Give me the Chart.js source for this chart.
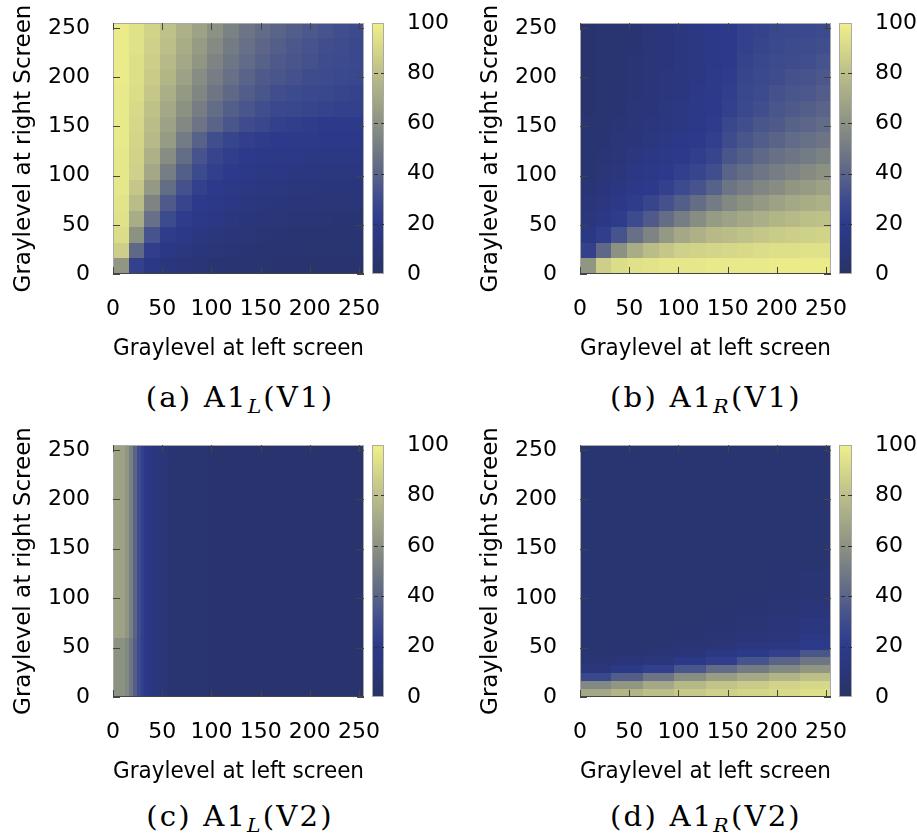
<!DOCTYPE html>
<html>
<head>
<meta charset="utf-8">
<script src="https://cdn.jsdelivr.net/npm/chart.js@4.4.1/dist/chart.umd.min.js"></script>
<style>
  body { margin: 0; background: #fff; width: 917px; height: 838px; position: relative; overflow: hidden; }
  canvas { position: absolute; }
  .cap { position: absolute; width: 300px; height: 40px; line-height: 40px; text-align: center;
         font-family: "DejaVu Serif", serif; font-size: 27px; letter-spacing: 2px; color: #000;
         white-space: nowrap; transform: scaleX(1.08); }
  .cap sub { font-size: 0.7em; font-style: italic; vertical-align: -0.3em; line-height: 0; }
</style>
</head>
<body>
<canvas id="heatA" width="390" height="370" style="left:0;top:0"></canvas>
<canvas id="heatB" width="390" height="370" style="left:467px;top:0"></canvas>
<canvas id="heatC" width="390" height="371" style="left:0;top:422px"></canvas>
<canvas id="heatD" width="390" height="371" style="left:467px;top:422px"></canvas>
<canvas id="barA" width="100" height="300" style="left:360px;top:0"></canvas>
<canvas id="barB" width="90" height="300" style="left:827px;top:0"></canvas>
<canvas id="barC" width="100" height="300" style="left:360px;top:422px"></canvas>
<canvas id="barD" width="90" height="300" style="left:827px;top:422px"></canvas>
<div class="cap" style="left:90px;top:378px">(a)&nbsp;A1<sub>L</sub>(V1)</div>
<div class="cap" style="left:556px;top:378px">(b)&nbsp;A1<sub>R</sub>(V1)</div>
<div class="cap" style="left:90px;top:797px">(c)&nbsp;A1<sub>L</sub>(V2)</div>
<div class="cap" style="left:556px;top:797px">(d)&nbsp;A1<sub>R</sub>(V2)</div>
<script>
// axis ticks and titles
const axisTicks = [0, 50, 100, 150, 200, 250];
const barTicks = [0, 20, 40, 60, 80, 100];
const xTitle = "Graylevel at left screen";
const yTitle = "Graylevel at right Screen";

// colour scale
const cmapStops = [0, 10, 20, 30, 40, 50, 60, 70, 80, 90, 100];
const cmapColors = ["#283366", "#2a3679", "#2c3a8c", "#3e4c8e", "#5a6488", "#737b84",
                    "#8c9282", "#a4a886", "#bcbf88", "#d6d889", "#f0f08a"];

// cell edges (gray levels)
const edges16 = [0, 16, 32, 48, 64, 80, 96, 112, 128, 144, 160, 176, 192, 208, 224, 240, 256];

// (a) A1_L(V1): rows from top (right gray 240-256) to bottom (0-16)
const a1LV1 = [
  [98,94,88,81,74,67,60,53,47,43,40,37,35,33,31,29],
  [98,94,87,80,72,64,57,50,45,41,38,35,33,31,30,28],
  [98,93,86,78,70,62,54,48,43,39,36,34,32,30,29,28],
  [98,93,85,76,67,58,51,45,40,36,34,32,30,29,28,27],
  [97,92,83,73,63,55,48,42,37,34,31,29,28,27,26,25],
  [97,91,81,70,60,51,44,38,34,31,28,27,26,25,24,24],
  [97,90,79,67,56,47,40,34,30,27,24,22,21,20,20,20],
  [97,89,78,64,50,39,31,26,23,21,20,19,19,18,18,18],
  [96,88,74,58,44,33,26,22,20,18,17,17,16,16,16,16],
  [96,87,70,51,38,29,23,20,18,16,15,14,14,13,13,13],
  [96,83,63,44,32,24,20,17,15,14,13,12,12,11,11,11],
  [95,79,54,36,26,20,17,15,13,12,11,10,10,9,9,9],
  [94,72,45,29,21,18,15,13,11,10,9,8,8,8,7,7],
  [92,60,33,21,17,14,12,10,9,8,7,7,6,6,6,6],
  [86,42,22,16,13,11,9,8,7,6,6,5,5,5,5,5],
  [62,24,16,12,10,8,7,6,5,5,4,4,4,4,4,4]
];

// (b) A1_R(V1)
const a1RV1 = [
  [4,5,6,7,9,11,13,16,18,20,24,25,27,28,28,29],
  [4,5,6,7,9,11,13,16,18,20,24,26,28,29,30,31],
  [4,5,6,8,9,11,13,16,18,20,25,27,29,30,31,33],
  [4,5,6,8,10,12,14,16,19,21,26,28,30,32,33,35],
  [4,5,7,8,10,12,14,17,19,22,27,29,32,34,35,37],
  [4,6,7,9,11,13,15,17,20,24,28,31,34,36,38,40],
  [5,6,8,10,12,14,16,18,21,27,31,34,36,39,41,43],
  [5,7,9,11,13,15,18,20,23,30,34,37,40,43,45,47],
  [6,8,10,13,15,17,20,22,26,34,38,42,45,48,50,53],
  [7,9,12,15,17,20,23,26,31,40,44,48,51,54,57,60],
  [8,11,14,18,20,24,29,33,39,47,51,55,58,62,64,67],
  [10,13,17,21,26,32,38,44,50,56,60,63,67,70,72,74],
  [12,16,21,29,36,44,51,58,64,67,70,73,76,78,80,81],
  [16,22,33,45,54,63,70,74,78,79,81,83,85,86,87,88],
  [24,42,60,72,79,83,87,88,89,90,91,92,93,93,94,94],
  [62,86,92,94,95,96,96,96,97,97,97,97,98,98,98,98]
];

// (c) A1_L(V2): narrow columns near left, two bands in right gray
const a1LV2x = [0, 6, 12, 16, 20, 24, 28, 32, 36, 40, 48, 56, 64, 96, 256];
const a1LV2y = [0, 60, 256];
const a1LV2 = [
  [68,67,62,52,40,30,23,18,15,12,9,7,6,4],
  [60,60,56,48,38,29,22,18,15,12,9,7,6,4]
];

// (d) A1_R(V2): finer rows near the bottom
const a1RV2x = [0, 32, 64, 96, 128, 160, 192, 224, 256];
const a1RV2y = [0, 8, 16, 24, 32, 40, 48, 56, 64, 80, 96, 128, 160, 256];
const a1RV2 = [
  [5,5,5,5,5,5,5,5],
  [5,5,5,5,5,5,6,6],
  [5,5,5,5,5,6,7,8],
  [5,5,5,5,6,7,8,10],
  [5,5,5,6,7,8,10,13],
  [5,5,6,7,8,10,12,17],
  [5,6,7,8,9,13,16,20],
  [6,7,8,10,15,19,24,34],
  [8,10,12,17,22,33,40,48],
  [12,17,23,34,43,50,56,62],
  [27,37,47,58,65,70,75,80],
  [56,62,70,77,82,85,88,90],
  [70,76,80,84,87,89,91,93]
];

Chart.defaults.font.family = "'DejaVu Sans', sans-serif";
Chart.defaults.font.size = 22;
Chart.defaults.color = "#000";

function hexToRgb(h) {
  return [1, 3, 5].map(i => parseInt(h.slice(i, i + 2), 16));
}

function colorFor(v) {
  v = Math.max(0, Math.min(100, v));
  for (let i = 1; i < cmapStops.length; i++) {
    if (v <= cmapStops[i]) {
      let f = (v - cmapStops[i - 1]) / (cmapStops[i] - cmapStops[i - 1]);
      let a = hexToRgb(cmapColors[i - 1]), b = hexToRgb(cmapColors[i]);
      return "rgb(" + a.map((c, k) => Math.round(c + (b[k] - c) * f)).join(",") + ")";
    }
  }
}

function toCells(grid, xs, ys) {
  let cells = [];
  let n = grid.length;
  grid.forEach((row, r) => {
    let y0 = ys[n - 1 - r], y1 = ys[n - r];
    row.forEach((v, i) => {
      cells.push({ x: (xs[i] + xs[i + 1]) / 2, y: (y0 + y1) / 2, x0: xs[i], x1: xs[i + 1], y0: y0, y1: y1, v: v });
    });
  });
  return cells;
}

// keep tick label padding from shrinking the plot area
function noScalePadding(s) {
  s.paddingTop = 0; s.paddingBottom = 0; s.paddingLeft = 0; s.paddingRight = 0;
}

const heatPlugin = {
  id: "heat",
  beforeDatasetsDraw(chart) {
    const { ctx, chartArea: a, scales: { x, y } } = chart;
    ctx.save();
    ctx.beginPath();
    ctx.rect(a.left, a.top, a.width, a.height);
    ctx.clip();
    chart.data.datasets[0].data.forEach(c => {
      let l = Math.round(x.getPixelForValue(c.x0)), r = Math.round(x.getPixelForValue(c.x1));
      let t = Math.round(y.getPixelForValue(c.y1)), b = Math.round(y.getPixelForValue(c.y0));
      ctx.fillStyle = colorFor(c.v);
      ctx.fillRect(l, t, r - l, b - t);
    });
    ctx.restore();
  },
  afterDatasetsDraw(chart) {
    const { ctx, chartArea: a, scales: { x, y } } = chart;
    ctx.save();
    ctx.lineWidth = 1;
    ctx.strokeStyle = "#aaa";
    ctx.strokeRect(a.left + 0.5, a.top + 0.5, a.width - 1, a.height - 1);
    ctx.strokeStyle = "#444";
    ctx.beginPath();
    ctx.moveTo(a.left, a.bottom - 0.5);
    ctx.lineTo(a.right, a.bottom - 0.5);
    axisTicks.forEach(v => {
      let px = Math.round(x.getPixelForValue(v)) + 0.5;
      ctx.moveTo(px, a.bottom); ctx.lineTo(px, a.bottom - 7);
      ctx.moveTo(px, a.top); ctx.lineTo(px, a.top + 7);
      let py = Math.round(y.getPixelForValue(v)) + 0.5;
      ctx.moveTo(a.left, py); ctx.lineTo(a.left + 7, py);
      ctx.moveTo(a.right, py); ctx.lineTo(a.right - 7, py);
    });
    ctx.stroke();
    ctx.restore();
  }
};

function heatChart(id, cells) {
  return new Chart(document.getElementById(id), {
    type: "scatter",
    data: { datasets: [{ data: cells, pointRadius: 0, pointHoverRadius: 0 }] },
    options: {
      responsive: false,
      animation: false,
      events: [],
      layout: { padding: { top: 23, right: 26, left: 0, bottom: 0 } },
      plugins: { legend: { display: false }, tooltip: { enabled: false } },
      scales: {
        x: {
          type: "linear", min: 0, max: 255,
          afterBuildTicks: s => { s.ticks = axisTicks.map(v => ({ value: v })); },
          afterFit: s => { s.height = 96; noScalePadding(s); },
          grid: { display: false, drawTicks: false },
          border: { display: false },
          ticks: { padding: 22, maxRotation: 0, autoSkip: false },
          title: { display: true, text: xTitle, font: { size: 23 }, padding: { top: 0, bottom: 7 } }
        },
        y: {
          type: "linear", min: 0, max: 255,
          afterBuildTicks: s => { s.ticks = axisTicks.map(v => ({ value: v })); },
          afterFit: s => { s.width = 113; noScalePadding(s); },
          grid: { display: false, drawTicks: false },
          border: { display: false },
          ticks: { padding: 23, autoSkip: false },
          title: { display: true, text: yTitle, font: { size: 23 }, padding: { top: 10, bottom: 0 } }
        }
      }
    },
    plugins: [heatPlugin]
  });
}

const barPlugin = {
  id: "colorbar",
  afterDatasetsDraw(chart) {
    const { ctx, chartArea: a, scales: { y } } = chart;
    ctx.save();
    ctx.lineWidth = 1;
    ctx.strokeStyle = "#aaa";
    ctx.strokeRect(a.left + 0.5, a.top + 0.5, a.width - 1, a.height - 1);
    ctx.strokeStyle = "#333";
    ctx.setLineDash([4, 3]);
    ctx.beginPath();
    barTicks.slice(1, -1).forEach(v => {
      let py = Math.round(y.getPixelForValue(v)) + 0.5;
      ctx.moveTo(a.left + 2, py);
      ctx.lineTo(a.right, py);
    });
    ctx.stroke();
    ctx.restore();
  }
};

function barGradient(chart) {
  const a = chart.chartArea;
  if (!a) return cmapColors[0];
  const y = chart.scales.y;
  let g = chart.ctx.createLinearGradient(0, y.getPixelForValue(0), 0, y.getPixelForValue(100));
  cmapStops.forEach((s, i) => g.addColorStop(s / 100, cmapColors[i]));
  return g;
}

function colorBar(id, canvasWidth, barWidth, bottomPad) {
  return new Chart(document.getElementById(id), {
    type: "bar",
    data: { labels: [""], datasets: [{ data: [100], backgroundColor: c => barGradient(c.chart),
      borderWidth: 0, barPercentage: 1, categoryPercentage: 1 }] },
    options: {
      responsive: false,
      animation: false,
      events: [],
      layout: { padding: { top: 23, left: 12, right: 0, bottom: bottomPad } },
      plugins: { legend: { display: false }, tooltip: { enabled: false } },
      scales: {
        x: { display: false },
        y: {
          position: "right", min: 0, max: 100,
          afterBuildTicks: s => { s.ticks = barTicks.map(v => ({ value: v })); },
          afterFit: s => { s.width = canvasWidth - 12 - barWidth; noScalePadding(s); },
          grid: { display: false, drawTicks: false },
          border: { display: false },
          ticks: { padding: 23 }
        }
      }
    },
    plugins: [barPlugin]
  });
}

heatChart("heatA", toCells(a1LV1, edges16, edges16));
heatChart("heatB", toCells(a1RV1, edges16, edges16));
heatChart("heatC", toCells(a1LV2, a1LV2x, a1LV2y));
heatChart("heatD", toCells(a1RV2, a1RV2x, a1RV2y));

colorBar("barA", 100, 12, 26);
colorBar("barB", 90, 13, 26);
colorBar("barC", 100, 12, 25);
colorBar("barD", 90, 13, 25);
</script>
</body>
</html>
